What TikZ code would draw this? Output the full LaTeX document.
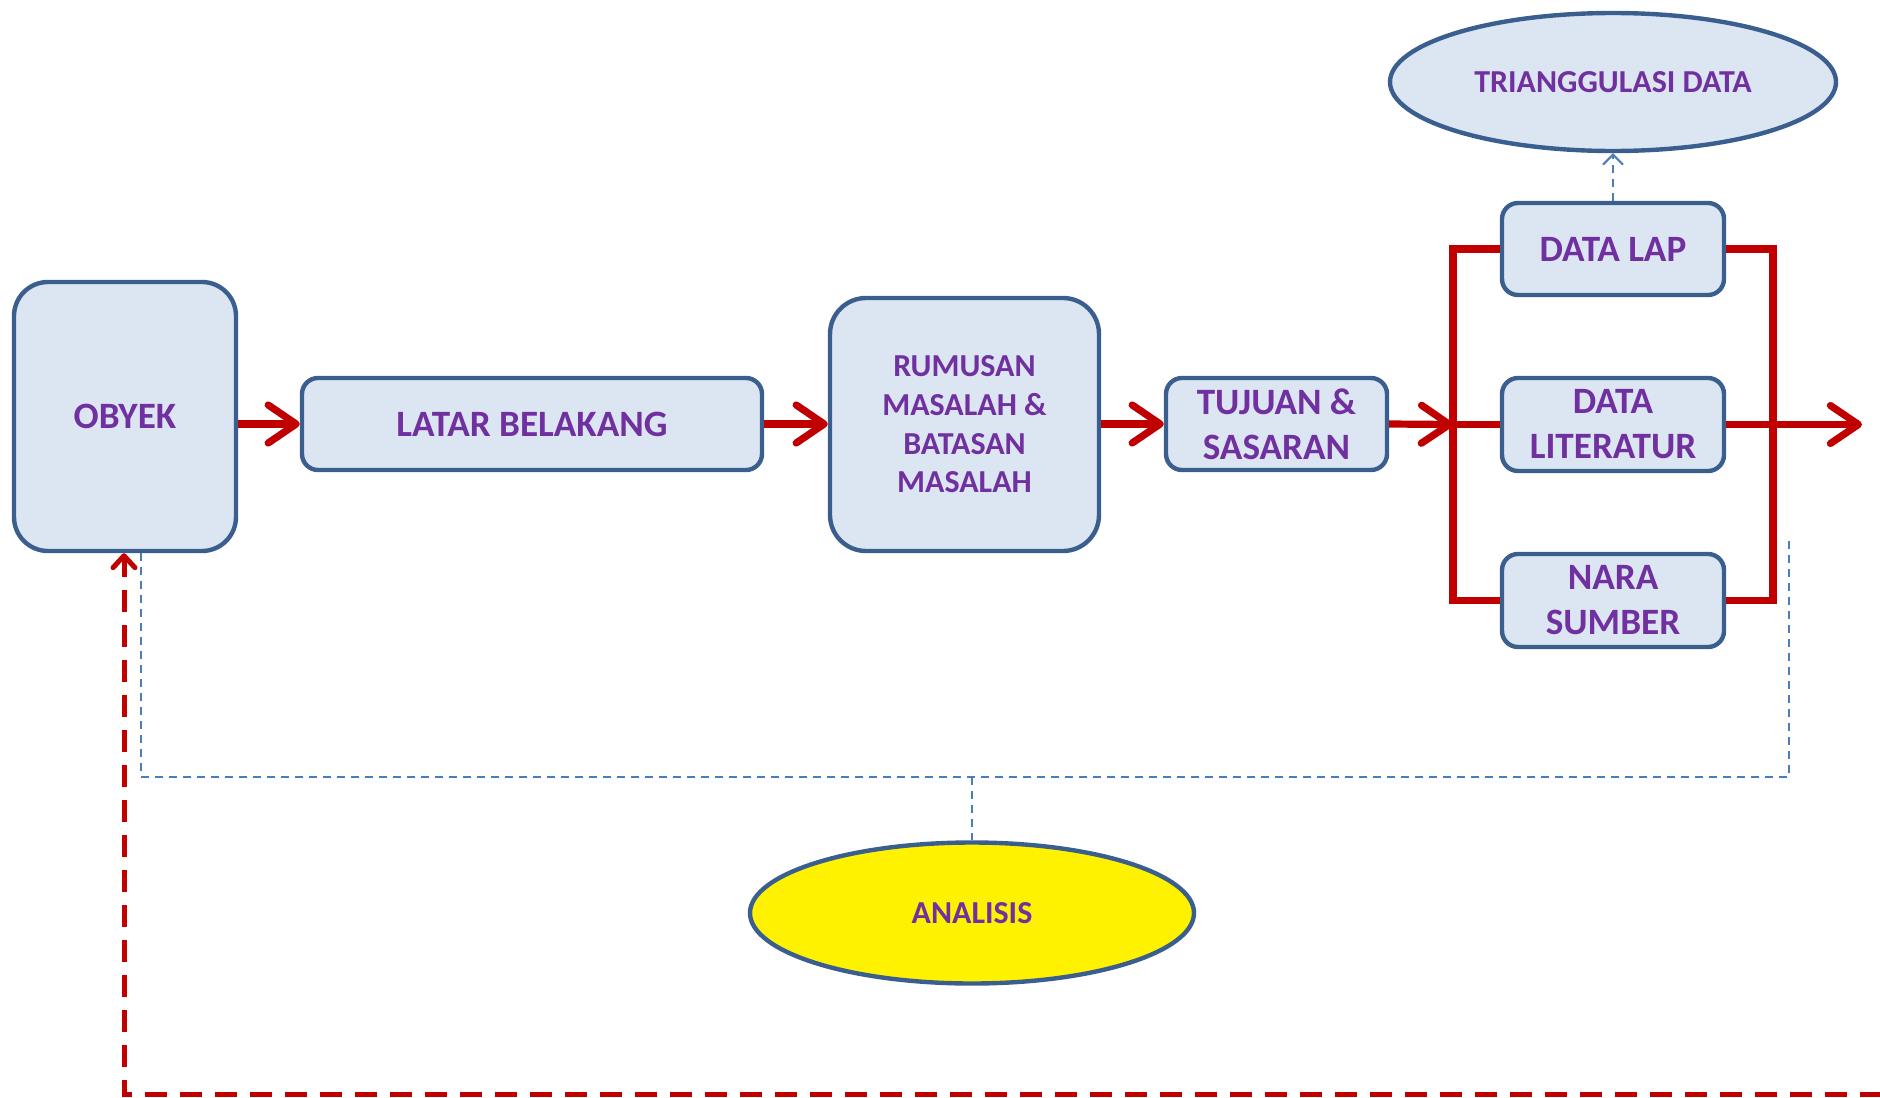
\documentclass[tikz,border=0pt]{standalone}
\usepackage{fontspec}
\setmainfont{Carlito}
\usetikzlibrary{arrows.meta,shapes.geometric}
\definecolor{boxfill}{HTML}{DCE6F2}
\definecolor{boxline}{HTML}{3A5F8E}
\definecolor{txtc}{HTML}{7030A0}
\definecolor{redln}{HTML}{C00000}
\definecolor{blueln}{HTML}{4A7EBB}
\begin{document}
\begin{tikzpicture}[x=0.5pt,y=-0.5pt,
  box/.style={draw=boxline, line width=2.2pt, fill=boxfill, rounded corners=#1,
    align=center, text=txtc, inner sep=0pt,
    font=\bfseries\fontsize{18.6}{22.5}\selectfont},
  box/.default=8pt,
  ell/.style={ellipse, draw=boxline, line width=2.2pt, align=center, text=txtc, inner sep=0pt},
  redarrow/.style={draw=redln, line width=3.6pt, -{Straight Barb[length=14pt,width=19pt,round]}},
  redline/.style={draw=redln, line width=3.6pt, line join=miter},
  bluedash/.style={draw=blueln, line width=1pt, dash pattern=on 4pt off 3pt},
  reddash/.style={draw=redln, line width=2.5pt, dash pattern=on 11pt off 6.5pt,
    -{Straight Barb[length=6pt,width=11pt,round]}}
]
\useasboundingbox (0,0) rectangle (1880,1098);

% nodes
\node[box=17pt, minimum width=111pt, minimum height=134.5pt] (obyek) at (125,416.5) {OBYEK};
\node[box, minimum width=230pt, minimum height=46pt] (latar) at (532,424) {LATAR BELAKANG};
\node[box=18pt, minimum width=134.5pt, minimum height=126.5pt,
  font=\bfseries\fontsize{16}{19.3}\selectfont] (rumusan) at (964.5,424.5)
  {RUMUSAN\\MASALAH \&\\BATASAN\\MASALAH};
\node[box, minimum width=110.5pt, minimum height=46pt] (tujuan) at (1276.5,424) {TUJUAN \&\\SASARAN};
\node[box, minimum width=111pt, minimum height=46pt] (datalap) at (1613,249) {DATA LAP};
\node[box, minimum width=111pt, minimum height=46.5pt] (datalit) at (1613,424.5) {DATA\\LITERATUR};
\node[box, minimum width=111pt, minimum height=46.5pt] (nara) at (1613,600.5) {NARA\\SUMBER};
\node[ell, fill=boxfill, minimum width=223pt, minimum height=69pt,
  font=\bfseries\fontsize{16}{19}\selectfont] (triang) at (1613,82) {TRIANGGULASI DATA};
\node[ell, fill=yellow, minimum width=222pt, minimum height=70.5pt,
  font=\bfseries\fontsize{16}{19}\selectfont] (analisis) at (972,913) {ANALISIS};

% coordinates
\coordinate (lb) at (1453,424.5);
\coordinate (rb) at (1773,424.5);
\coordinate (out) at (1862,424.5);
\coordinate (fbstart) at (1882,1094);
\coordinate (fbcorner) at (124,1094);
\coordinate (bl1) at (141,777);
\coordinate (bl2) at (1789,777);
\coordinate (bl3) at (1789,537);
\coordinate (blmid) at (972,777);

% main flow
\draw[redarrow] (obyek.east |- latar.west) -- (latar.west);
\draw[redarrow] (latar.east) -- (rumusan.west |- latar.east);
\draw[redarrow] (rumusan.east |- tujuan.west) -- (tujuan.west);
\draw[redarrow] (tujuan.east) -- (lb);

% brackets
\draw[redline] (datalap.west) -- (lb |- datalap.west) -- (lb |- nara.west) -- (nara.west);
\draw[redline] (lb) -- (datalit.west);
\draw[redline] (datalap.east) -- (rb |- datalap.east) -- (rb |- nara.east) -- (nara.east);
\draw[redarrow] (datalit.east) -- (out);

% triangulasi
\draw[bluedash, -{Straight Barb[length=5pt,width=10pt]}] (datalap.north) -- (triang.south);

% analysis connector
\draw[bluedash] (obyek.south -| bl1) -- (bl1) -- (bl2) -- (bl3);
\draw[bluedash] (blmid) -- (analisis.north);

% feedback
\draw[reddash] (fbstart) -- (fbcorner) -- (obyek.south -| fbcorner);
\end{tikzpicture}
\end{document}
